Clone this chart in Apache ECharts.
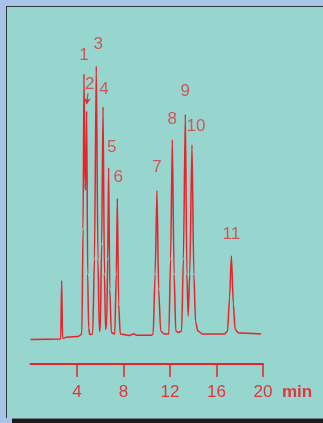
<!DOCTYPE html>
<html>
<head>
<meta charset="utf-8">
<script src="https://cdn.jsdelivr.net/npm/echarts@6/dist/echarts.min.js"></script>
<style>
html,body{margin:0;padding:0;background:#a8c3e7;overflow:hidden;}
#wrap{position:relative;width:323px;height:423px;}
#panel{position:absolute;left:6px;top:6px;width:330px;height:412px;background:#97d6ce;
  border-left:1px solid #30363c;border-top:1px solid #30363c;box-sizing:border-box;}
#shadow{position:absolute;left:12px;top:418px;width:311px;height:5px;background:#1c1c1c;
  border-top:1px solid #6b7d7e;box-sizing:border-box;}
#c{position:absolute;left:0;top:0;width:323px;height:423px;}
</style>
</head>
<body>
<div id="wrap">
<div id="panel"></div>
<div id="shadow"></div>
<div id="c"></div>
</div>
<script>
// Chromatogram trace: time (min) and detector signal (arbitrary units)
const traceTime = [0, 2.6, 2.68, 2.76, 3.2, 4.1, 4.42, 4.52, 4.60, 4.68, 4.74, 4.83, 4.92, 5.0, 5.1,
  5.35, 5.5, 5.66, 5.8, 5.92, 6.0, 6.12, 6.24, 6.36, 6.46, 6.56, 6.64, 6.72, 6.82, 6.95,
  7.25, 7.38, 7.47, 7.58, 7.72, 8.5, 8.9, 9.1, 10.4, 10.55, 10.72, 10.88, 11.02, 11.2, 11.5,
  11.9, 12.05, 12.2, 12.35, 12.5, 12.7, 13.0, 13.15, 13.32, 13.45, 13.56, 13.7, 13.89, 14.05,
  14.2, 14.4, 14.8, 16.7, 16.95, 17.12, 17.28, 17.45, 17.6, 17.9, 19.83];
const traceSignal = [8.2, 8.3, 27.8, 8.6, 9.0, 9.2, 10, 45, 96.7, 60, 58, 84.3, 30, 12, 9.8,
  10, 35, 99.3, 35, 11, 11, 40, 85.7, 30, 11.5, 14, 35, 65.4, 25, 10.5,
  10, 30, 55.2, 20, 10, 9.5, 10.1, 9.6, 9.6, 10, 30, 57.8, 25, 11, 10,
  10, 35, 74.7, 30, 11, 10.5, 11, 35, 83.2, 30, 16, 30, 73.1, 30,
  14, 11, 10, 10, 11, 22, 36, 20, 11.5, 10.3, 10];

// Peak numbers and apex positions
const peakNames = ['1', '2', '3', '4', '5', '6', '7', '8', '9', '10', '11'];
const peakTimes = [4.60, 4.83, 5.66, 6.24, 6.72, 7.47, 10.88, 12.2, 13.32, 13.89, 17.28];
const peakHeights = [96.7, 84.3, 99.3, 85.7, 65.4, 55.2, 57.8, 74.7, 83.2, 73.1, 36];

// Axis ticks
const tickValues = [4, 8, 12, 16, 20];
const axisUnit = 'min';

const RED = '#e8232b';
const TXT = '#e0353b';
const FONT = '"Liberation Sans", Arial, sans-serif';
const labelOffsets = [[0,-19],[3,-27],[2,-22],[1,-18],[3,-20],[1,-21],[0,-23],[0,-21],[0,-23],[4,-18],[0,-22]];

const chart = echarts.init(document.getElementById('c'), null, {renderer: 'canvas'});
chart.setOption({
  animation: false,
  backgroundColor: 'transparent',
  graphic: [
    {type: 'text', left: 282, top: 384, z: 10,
     style: {text: axisUnit, fill: TXT, font: 'bold 17px "Liberation Sans", Arial, sans-serif'}}
  ],
  grid: {left: 30.5, right: 60, top: 64, bottom: 59, containLabel: false},
  xAxis: {
    type: 'value', min: 0, max: 20, interval: 4,
    axisLine: {show: true, lineStyle: {color: RED, width: 2}},
    axisTick: {show: true, customValues: tickValues, length: 13, lineStyle: {color: RED, width: 1.5}},
    axisLabel: {show: true, customValues: tickValues, margin: 20, color: TXT,
      fontFamily: FONT, fontSize: 17},
    splitLine: {show: false}
  },
  yAxis: {
    type: 'value', min: 0, max: 100, show: false,
    splitLine: {show: false}
  },
  series: [
    {
      type: 'line',
      data: traceTime.map((t, i) => [t, traceSignal[i]]),
      showSymbol: false,
      smooth: 0.25,
      smoothMonotone: 'x',
      lineStyle: {color: RED, width: 1.5},
      z: 3
    },
    {
      type: 'scatter',
      data: peakTimes.map((t, i) => ({
        value: [t, peakHeights[i]],
        name: peakNames[i],
        label: {offset: labelOffsets[i]}
      })),
      symbolSize: 0,
      label: {show: true, position: 'inside', formatter: p => p.name,
        color: TXT, fontFamily: FONT, fontSize: 17},
      markLine: {
        silent: true,
        symbol: ['none', 'arrow'],
        symbolSize: [5, 6],
        label: {show: false},
        lineStyle: {color: RED, width: 1, type: 'solid'},
        data: [[{coord: [4.95, 90.2]}, {coord: [4.83, 86.6]}]]
      },
      z: 4
    }
  ]
});
</script>
</body>
</html>
